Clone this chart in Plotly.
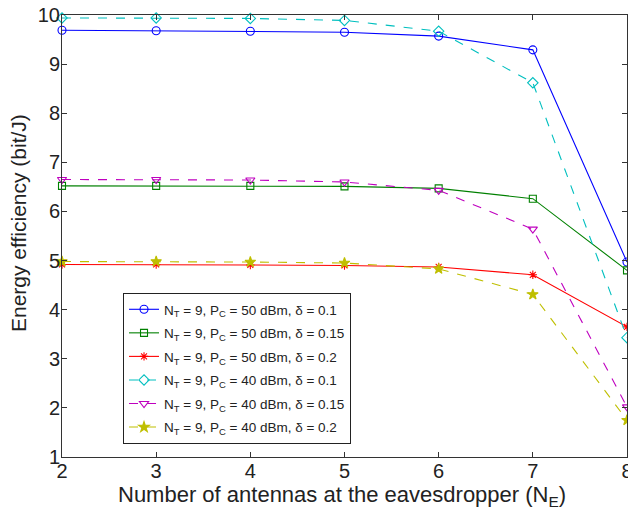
import plotly.graph_objects as go

ne = [2, 3, 4, 5, 6, 7, 8]
ee_50_01 = [9.69, 9.68, 9.67, 9.65, 9.57, 9.29, 4.97]
ee_50_015 = [6.52, 6.52, 6.52, 6.51, 6.47, 6.26, 4.80]
ee_50_02 = [4.92, 4.92, 4.91, 4.90, 4.87, 4.71, 3.65]
ee_40_01 = [9.94, 9.94, 9.93, 9.89, 9.67, 8.62, 3.43]
ee_40_015 = [6.65, 6.65, 6.64, 6.60, 6.43, 5.64, 2.02]
ee_40_02 = [4.98, 4.98, 4.97, 4.95, 4.83, 4.31, 1.75]

series = [
    ("N<sub>T</sub> = 9, P<sub>C</sub> = 50 dBm, δ = 0.1", ee_50_01, "#0000ff", "solid", "circle-open", 8),
    ("N<sub>T</sub> = 9, P<sub>C</sub> = 50 dBm, δ = 0.15", ee_50_015, "#008000", "solid", "square-open", 7),
    ("N<sub>T</sub> = 9, P<sub>C</sub> = 50 dBm, δ = 0.2", ee_50_02, "#ff0000", "solid", "asterisk-open", 7),
    ("N<sub>T</sub> = 9, P<sub>C</sub> = 40 dBm, δ = 0.1", ee_40_01, "#00bfbf", "dash", "diamond-open", 8),
    ("N<sub>T</sub> = 9, P<sub>C</sub> = 40 dBm, δ = 0.15", ee_40_015, "#bf00bf", "dash", "triangle-down-open", 8),
    ("N<sub>T</sub> = 9, P<sub>C</sub> = 40 dBm, δ = 0.2", ee_40_02, "#bfbf00", "dash", "star", 8),
]

x_title = "Number of antennas at the eavesdropper (N<sub>E</sub>)"
y_title = "Energy efficiency (bit/J)"

fig = go.Figure()
for i, (name, y, color, dash, sym, size) in enumerate(series):
    fig.add_trace(go.Scatter(
        x=ne, y=y, name=name, mode="lines+markers", legendgroup=f"g{i}",
        line=dict(color=color, width=1.1, dash=dash),
        marker=dict(symbol=sym, size=size, color=color,
                    line=dict(color=color, width=1.1)),
        cliponaxis=False,
    ))

axis_common = dict(
    showgrid=False, zeroline=False, showline=True, mirror="ticks",
    linecolor="#333333", linewidth=1, ticks="inside", ticklen=5,
    tickcolor="#333333", tickfont=dict(size=20, color="#222222"),
    automargin=False, ticklabeloverflow="allow",
)
W, H = 628, 517
L, R, T, B = 62, 1, 15, 60
fig.update_layout(
    width=W, height=H,
    margin=dict(l=L, r=R, t=T, b=B),
    paper_bgcolor="white", plot_bgcolor="white",
    font=dict(family="Liberation Sans, Arial, sans-serif", color="#222222"),
    xaxis=dict(range=[2, 8], dtick=1, ticklabelstandoff=-4, **axis_common),
    yaxis=dict(range=[1, 10], dtick=1, ticklabelstandoff=-3, **axis_common),
    legend=dict(x=0.108, y=0.371, xanchor="left", yanchor="top",
                bgcolor="white", bordercolor="#222222", borderwidth=1,
                font=dict(size=13.5, color="#222222"), tracegroupgap=3),
)
pw, ph = W - L - R, H - T - B
fig.add_annotation(text=x_title, xref="paper", yref="paper",
                   x=(342 - L) / pw, y=-(496 - (H - B)) / ph,
                   xanchor="center", yanchor="middle", showarrow=False,
                   font=dict(size=22, color="#222222"))
fig.add_annotation(text=y_title, xref="paper", yref="paper",
                   x=-(L - 18) / pw, y=((H - B) - 223) / ph, textangle=-90,
                   xanchor="center", yanchor="middle", showarrow=False,
                   font=dict(size=21, color="#222222"))
fig.write_html("out.html", config={"displayModeBar": False},
               post_script="document.body.style.margin='0px';")
